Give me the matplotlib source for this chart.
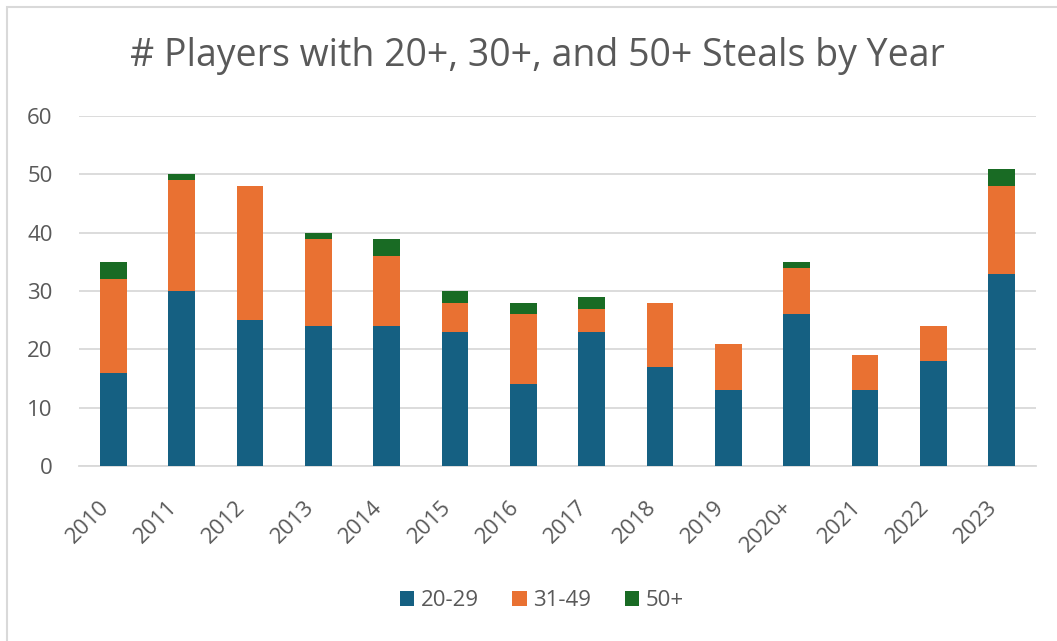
import matplotlib.pyplot as plt
from matplotlib.patches import Rectangle
import numpy as np

years = ['2010', '2011', '2012', '2013', '2014', '2015', '2016', '2017',
         '2018', '2019', '2020+', '2021', '2022', '2023']
s20_29 = [16, 30, 25, 24, 24, 23, 14, 23, 17, 13, 26, 13, 18, 33]
s31_49 = [16, 19, 23, 15, 12, 5, 12, 4, 11, 8, 8, 6, 6, 15]
s50 = [3, 1, 0, 1, 3, 2, 2, 2, 0, 0, 1, 0, 0, 3]

blue = '#156082'
orange = '#E97132'
green = '#196B24'
txt = '#595959'
grid = '#D9D9D9'

plt.rcParams['font.family'] = ['Open Sans', 'DejaVu Sans']

W, H = 1057, 641
fig = plt.figure(figsize=(W / 100, H / 100), dpi=100)
ax = fig.add_axes([79 / W, (H - 466) / H, (1036 - 79) / W, 350 / H])

x = np.arange(len(years))
a = np.array(s20_29)
b = np.array(s31_49)
c = np.array(s50)
ax.bar(x, a, width=0.39, color=blue, label='20-29', zorder=3)
ax.bar(x, b, width=0.39, bottom=a, color=orange, label='31-49', zorder=3)
ax.bar(x, c, width=0.39, bottom=a + b, color=green, label='50+', zorder=3)

ax.set_xlim(-0.5, len(years) - 0.5)
ax.set_ylim(0, 60)
ax.set_yticks(range(0, 61, 10))
ax.yaxis.grid(True, color=grid, linewidth=1.3, zorder=0)
for s in ['top', 'right', 'left']:
    ax.spines[s].set_visible(False)
ax.spines['bottom'].set_color(grid)
ax.spines['bottom'].set_linewidth(1.3)
ax.tick_params(axis='both', length=0, labelcolor=txt, labelsize=16)
ax.tick_params(axis='y', pad=19)
ax.tick_params(axis='x', pad=22)
ax.set_xticks(x)
ax.set_xticklabels(years, rotation=45, ha='right')

fig.text(537 / W, 1 - 56 / H, '# Players with 20+, 30+, and 50+ Steals by Year',
         ha='center', va='center', fontsize=27, color=txt)

fig.legend(loc='center', bbox_to_anchor=(542 / W, 1 - 601 / H), ncol=3, frameon=False,
           fontsize=16, labelcolor=txt, handlelength=0.65, handleheight=0.65,
           handletextpad=0.3, columnspacing=1.5)

fig.patches.append(Rectangle((6.5 / W, -0.1), 2, (H - 7) / H + 0.1,
                             transform=fig.transFigure, fill=False,
                             edgecolor=grid, linewidth=1.5))

fig.savefig('out.png', dpi=100)
